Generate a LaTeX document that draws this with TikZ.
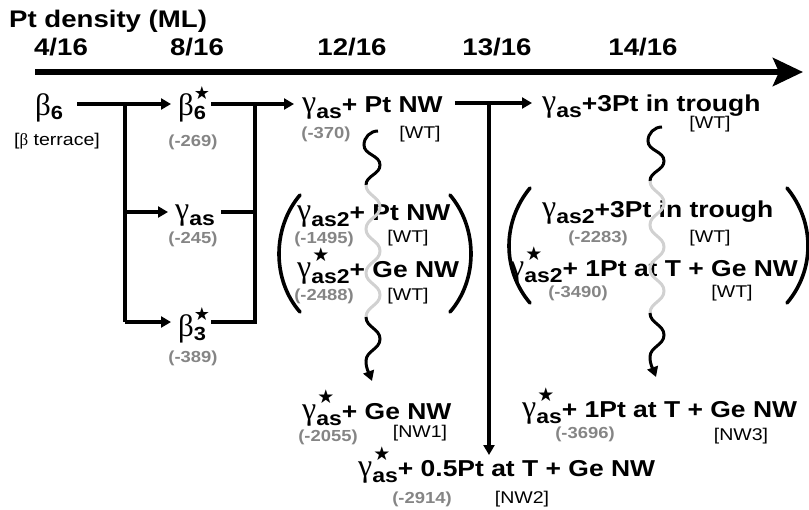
\documentclass[tikz,border=0pt]{standalone}
\usepackage{fontspec}
\setmainfont{Liberation Sans}[FakeStretch=1.15]
\newfontfamily\grk{Liberation Serif}
\newfontfamily\symf{DejaVu Sans}
\usetikzlibrary{arrows.meta}

\definecolor{enGray}{gray}{0.52}
\definecolor{waveGray}{gray}{0.82}

% gamma phase: star, subscript
\newcommand{\gph}[2]{{\grk\mdseries\fontsize{32}{32}\selectfont γ}%
  \rlap{\kern1pt\raisebox{16pt}{\symf\fontsize{19}{19}\selectfont #1}}%
  \raisebox{-6pt}{\fontsize{20}{20}\selectfont\bfseries #2}}
% beta phase: star, subscript
\newcommand{\bph}[2]{{\grk\mdseries\fontsize{31}{31}\selectfont β}%
  \rlap{\kern0pt\raisebox{16pt}{\symf\fontsize{18}{18}\selectfont #1}}%
  \raisebox{-4pt}{\fontsize{19}{19}\selectfont\bfseries #2}}

\begin{document}
\begin{tikzpicture}[
    x=1pt, y=-1pt,
    every node/.style={inner sep=0pt},
    main/.style={anchor=base west, font=\fontsize{23}{26}\selectfont\bfseries},
    en/.style={anchor=base, text=enGray, font=\fontsize{16}{18}\selectfont\bfseries},
    tag/.style={anchor=base, font=\fontsize{17}{19}\selectfont},
    tick/.style={anchor=base, font=\fontsize{24}{26}\selectfont\bfseries},
    flow/.style={line width=3.2pt, -{Triangle[length=10pt,width=11pt]}},
    bar/.style={line width=3.2pt},
    wave/.style={line width=3pt},
    paren/.style={line width=3.6pt, line cap=round}
  ]
  \useasboundingbox (0,0) rectangle (809,509);

  % Axis
  \node[anchor=base west, font=\fontsize{24}{26}\selectfont\bfseries] (title) at (9,27) {Pt density (ML)};
  \node[tick] (t4)  at (61,55)  {4/16};
  \node[tick] (t8)  at (197,55) {8/16};
  \node[tick] (t12) at (352,55) {12/16};
  \node[tick] (t13) at (497,55) {13/16};
  \node[tick] (t14) at (643,55) {14/16};
  \coordinate (ax0) at (35,72);
  \coordinate (ax1) at (803,72);
  \draw[line width=6pt, -{Stealth[length=30pt,width=28pt,inset=6pt]}] (ax0) -- (ax1);

  % Beta phases
  \node[main] (b6)  at (35,115)  {\bph{}{6}};
  \node[tag]  (bt)  at (57,145)  {[{\grk β} terrace]};
  \node[main] (b6s) at (178,115) {\bph{★}{6}};
  \node[en]   (e269) at (193,146) {(-269)};
  \node[main] (gas) at (175,219) {\gph{}{as}};
  \node[en]   (e245) at (193,243) {(-245)};
  \node[main] (b3s) at (178,336) {\bph{★}{3}};
  \node[en]   (e389) at (193,362) {(-389)};

  % Wetting phases
  \node[main] (g1) at (302,112) {\gph{}{as}+ Pt NW};
  \node[en]   (e370) at (326,138) {(-370)};
  \node[tag]  (w1) at (420,138) {[WT]};
  \node[main] (g2) at (542,111) {\gph{}{as}+3Pt in trough};
  \node[tag]  (w2) at (710,128) {[WT]};

  % Left group
  \node[main] (g3) at (297,220) {\gph{}{as2}+ Pt NW};
  \node[en]   (e1495) at (324,243) {(-1495)};
  \node[tag]  (w3) at (408,242) {[WT]};
  \node[main] (g4) at (297,277) {\gph{★}{as2}+ Ge NW};
  \node[en]   (e2488) at (324,300) {(-2488)};
  \node[tag]  (w4) at (408,300) {[WT]};
  \draw[paren] (300,195) .. controls (272,228) and (272,280) .. (300,312);
  \draw[paren] (450,195) .. controls (478,228) and (478,280) .. (450,312);

  % Right group
  \node[main] (g5) at (542,217) {\gph{}{as2}+3Pt in trough};
  \node[en]   (e2283) at (598,242) {(-2283)};
  \node[tag]  (w5) at (710,242) {[WT]};
  \node[main] (g6) at (510,276) {\gph{★}{as2}+ 1Pt at T + Ge NW};
  \node[en]   (e3490) at (578,297) {(-3490)};
  \node[tag]  (w6) at (732,297) {[WT]};
  \draw[paren] (530,188) .. controls (502,222) and (502,270) .. (530,303);
  \draw[paren] (787,188) .. controls (815,222) and (815,270) .. (787,303);

  % Nanowire phases
  \node[main] (n1) at (302,419) {\gph{★}{as}+ Ge NW};
  \node[en]   (e2055) at (328,441) {(-2055)};
  \node[tag]  (nw1) at (420,437) {[NW1]};
  \node[main] (n3) at (522,417) {\gph{★}{as}+ 1Pt at T + Ge NW};
  \node[en]   (e3696) at (585,438) {(-3696)};
  \node[tag]  (nw3) at (741,440) {[NW3]};
  \node[main] (n2) at (358,476) {\gph{★}{as}+ 0.5Pt at T + Ge NW};
  \node[en]   (e2914) at (422,503) {(-2914)};
  \node[tag]  (nw2) at (522,503) {[NW2]};

  % Junctions
  \coordinate (j1)  at (125,104);
  \coordinate (j1b) at (125,322);
  \coordinate (j2)  at (255,104);
  \coordinate (j3)  at (489,103);
  \coordinate (j3b) at (489,455);
  \coordinate (rg)  at (125,212);

  % Connections
  \draw[flow] ([xshift=14pt]b6.east |- j1) -- ([xshift=-7pt]b6s.west |- j1);
  \draw[bar] (j1) -- (j1b);
  \draw[flow] (rg) -- ([xshift=-7pt]gas.west |- rg);
  \draw[flow] (j1b) -- ([xshift=-7pt]b3s.west |- j1b);
  \draw[bar] ([xshift=5pt]b6s.east |- j2) -- (j2);
  \draw[bar] ([xshift=6pt]gas.east |- rg) -- (j2 |- rg);
  \draw[bar] ([xshift=5pt]b3s.east |- j1b) -- (j2 |- j1b) -- (j2);
  \draw[flow] (j2) -- ([xshift=-8pt]g1.west |- j2);
  \draw[bar] ([xshift=12pt]g1.east |- j3) -- (j3);
  \draw[flow] (j3) -- ([xshift=-10pt]g2.west |- j3);
  \draw[flow] (j3) -- (j3b);

  % Annealing squiggles
  \coordinate (sa1) at (378,131);
  \coordinate (sb1) at (662,127);
  \foreach \s in {sa,sb} {
    \draw[wave] (\s1) to[out=180,in=90] ++(-14,14)
      to[out=-90,in=90] ++(16,20) to[out=-90,in=90] ++(-14,20) coordinate (\s2);
    \draw[wave, waveGray] (\s2) to[out=-90,in=90] ++(14,22)
      to[out=-90,in=90] ++(-14,22) to[out=-90,in=90] ++(14,22)
      to[out=-90,in=90] ++(-14,22) to[out=-90,in=90] ++(14,22)
      to[out=-90,in=90] ++(-14,22) coordinate (\s3);
    \draw[wave, -{Triangle[length=10pt,width=11pt]}] (\s3) to[out=-90,in=90] ++(14,22)
      to[out=-90,in=90] ++(-14,22) to[out=-90,in=110] ++(6,20);
  }
\end{tikzpicture}
\end{document}
